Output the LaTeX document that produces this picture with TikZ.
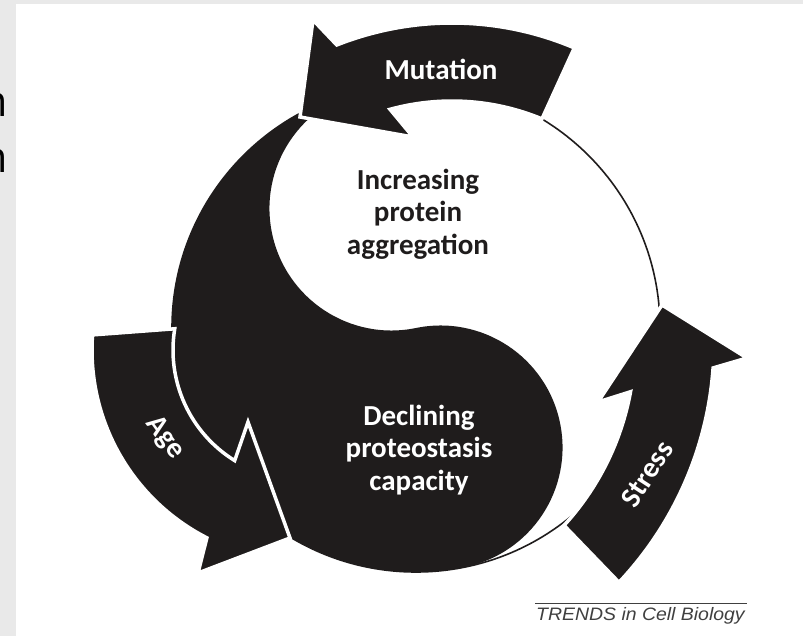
\documentclass[tikz,border=0pt]{standalone}
\usepackage{fontspec}
\setmainfont{Carlito}
\newfontfamily\trendsfont[FakeStretch=1.08]{Liberation Sans}
\newfontfamily\cutfont{Open Sans}
\usetikzlibrary{calc}
\definecolor{ink}{RGB}{31,28,28}
\definecolor{panelgray}{RGB}{233,233,233}
\definecolor{captiongray}{RGB}{64,64,64}
\begin{document}
\begin{tikzpicture}[x=1pt,y=-1pt,
  arrowband/.style={fill=ink, draw=white, line width=3.5pt, line join=miter},
  arrowlabel/.style={font=\bfseries\fontsize{29}{32}\selectfont, text=white, inner sep=0pt},
  centerlabel/.style={font=\bfseries\fontsize{29}{32.5}\selectfont, align=center, inner sep=0pt},
  cutletter/.style={font=\cutfont\fontsize{43}{50}\selectfont, inner sep=0pt, text=black, anchor=base east},
  captiontext/.style={font=\trendsfont\itshape\fontsize{18}{20}\selectfont, text=captiongray, inner sep=0pt, anchor=base west}]
\useasboundingbox (0,0) rectangle (803,636);
\clip (0,0) rectangle (803,636);
% background panels
\fill[panelgray] (0,0) rectangle (803,636);
\fill[white] (16,4) rectangle (803,636);
% cut-off letters at the left edge
\node[cutletter] (cutA) at (8.5,117) {n};
\node[cutletter] (cutB) at (8.5,173) {n};
% main circle
\coordinate (O) at (416,328);
\draw[line width=1.6pt, ink] (O) circle[radius=244];
% yin-yang black region
\fill[ink] ($(O)+(258.4:244)$) arc[start angle=258.4, end angle=78.4, radius=244]
  arc[start angle=78.4, end angle=-101.6, radius=122]
  arc[start angle=78.4, end angle=258.4, radius=122] -- cycle;
% Mutation arrow
\coordinate (Cm) at (452,336);
\draw[arrowband] ($(Cm)+(-67:313)$) arc[start angle=-67, end angle=-111.6, radius=313]
  -- (313,20) -- (300,117) -- (413,137)
  -- ($(Cm)+(-105.3:235)$) arc[start angle=-105.3, end angle=-67.5, radius=235] -- cycle;
% Stress arrow
\coordinate (Cs) at (365,343);
\draw[arrowband] ($(Cs)+(43.3:349)$) arc[start angle=43.3, end angle=4.1, radius=349]
  -- (747,358) -- (662,305) -- (598,402)
  -- ($(Cs)+(10.4:270)$) arc[start angle=10.4, end angle=42.5, radius=270] -- cycle;
% Age arrow
\coordinate (Ca) at (303,350);
\draw[arrowband] ($(Ca)+(184.1:211)$) arc[start angle=184.1, end angle=117.1, radius=211]
  -- (198,573) -- (290,538) -- (248,422)
  -- ($(Ca)+(121.7:130)$) arc[start angle=121.7, end angle=189.4, radius=130] -- cycle;
% labels
\node[arrowlabel, anchor=base] (mut) at (441,80) {Mutation};
\node[arrowlabel, rotate=-54] (age) at (165,438) {Age};
\node[arrowlabel, rotate=57] (stress) at (647,474) {Stress};
\node[centerlabel, text=ink] (agg) at (418,214) {Increasing\\protein\\aggregation};
\node[centerlabel, text=white] (dec) at (419,450) {Declining\\proteostasis\\capacity};
% caption
\coordinate (ruleL) at (535,603);
\coordinate (ruleR) at (747,603);
\draw[captiongray, line width=0.8pt] (ruleL) -- (ruleR);
\node[captiontext] (trends) at (536,620.5) {TRENDS in Cell Biology};
\end{tikzpicture}
\end{document}
